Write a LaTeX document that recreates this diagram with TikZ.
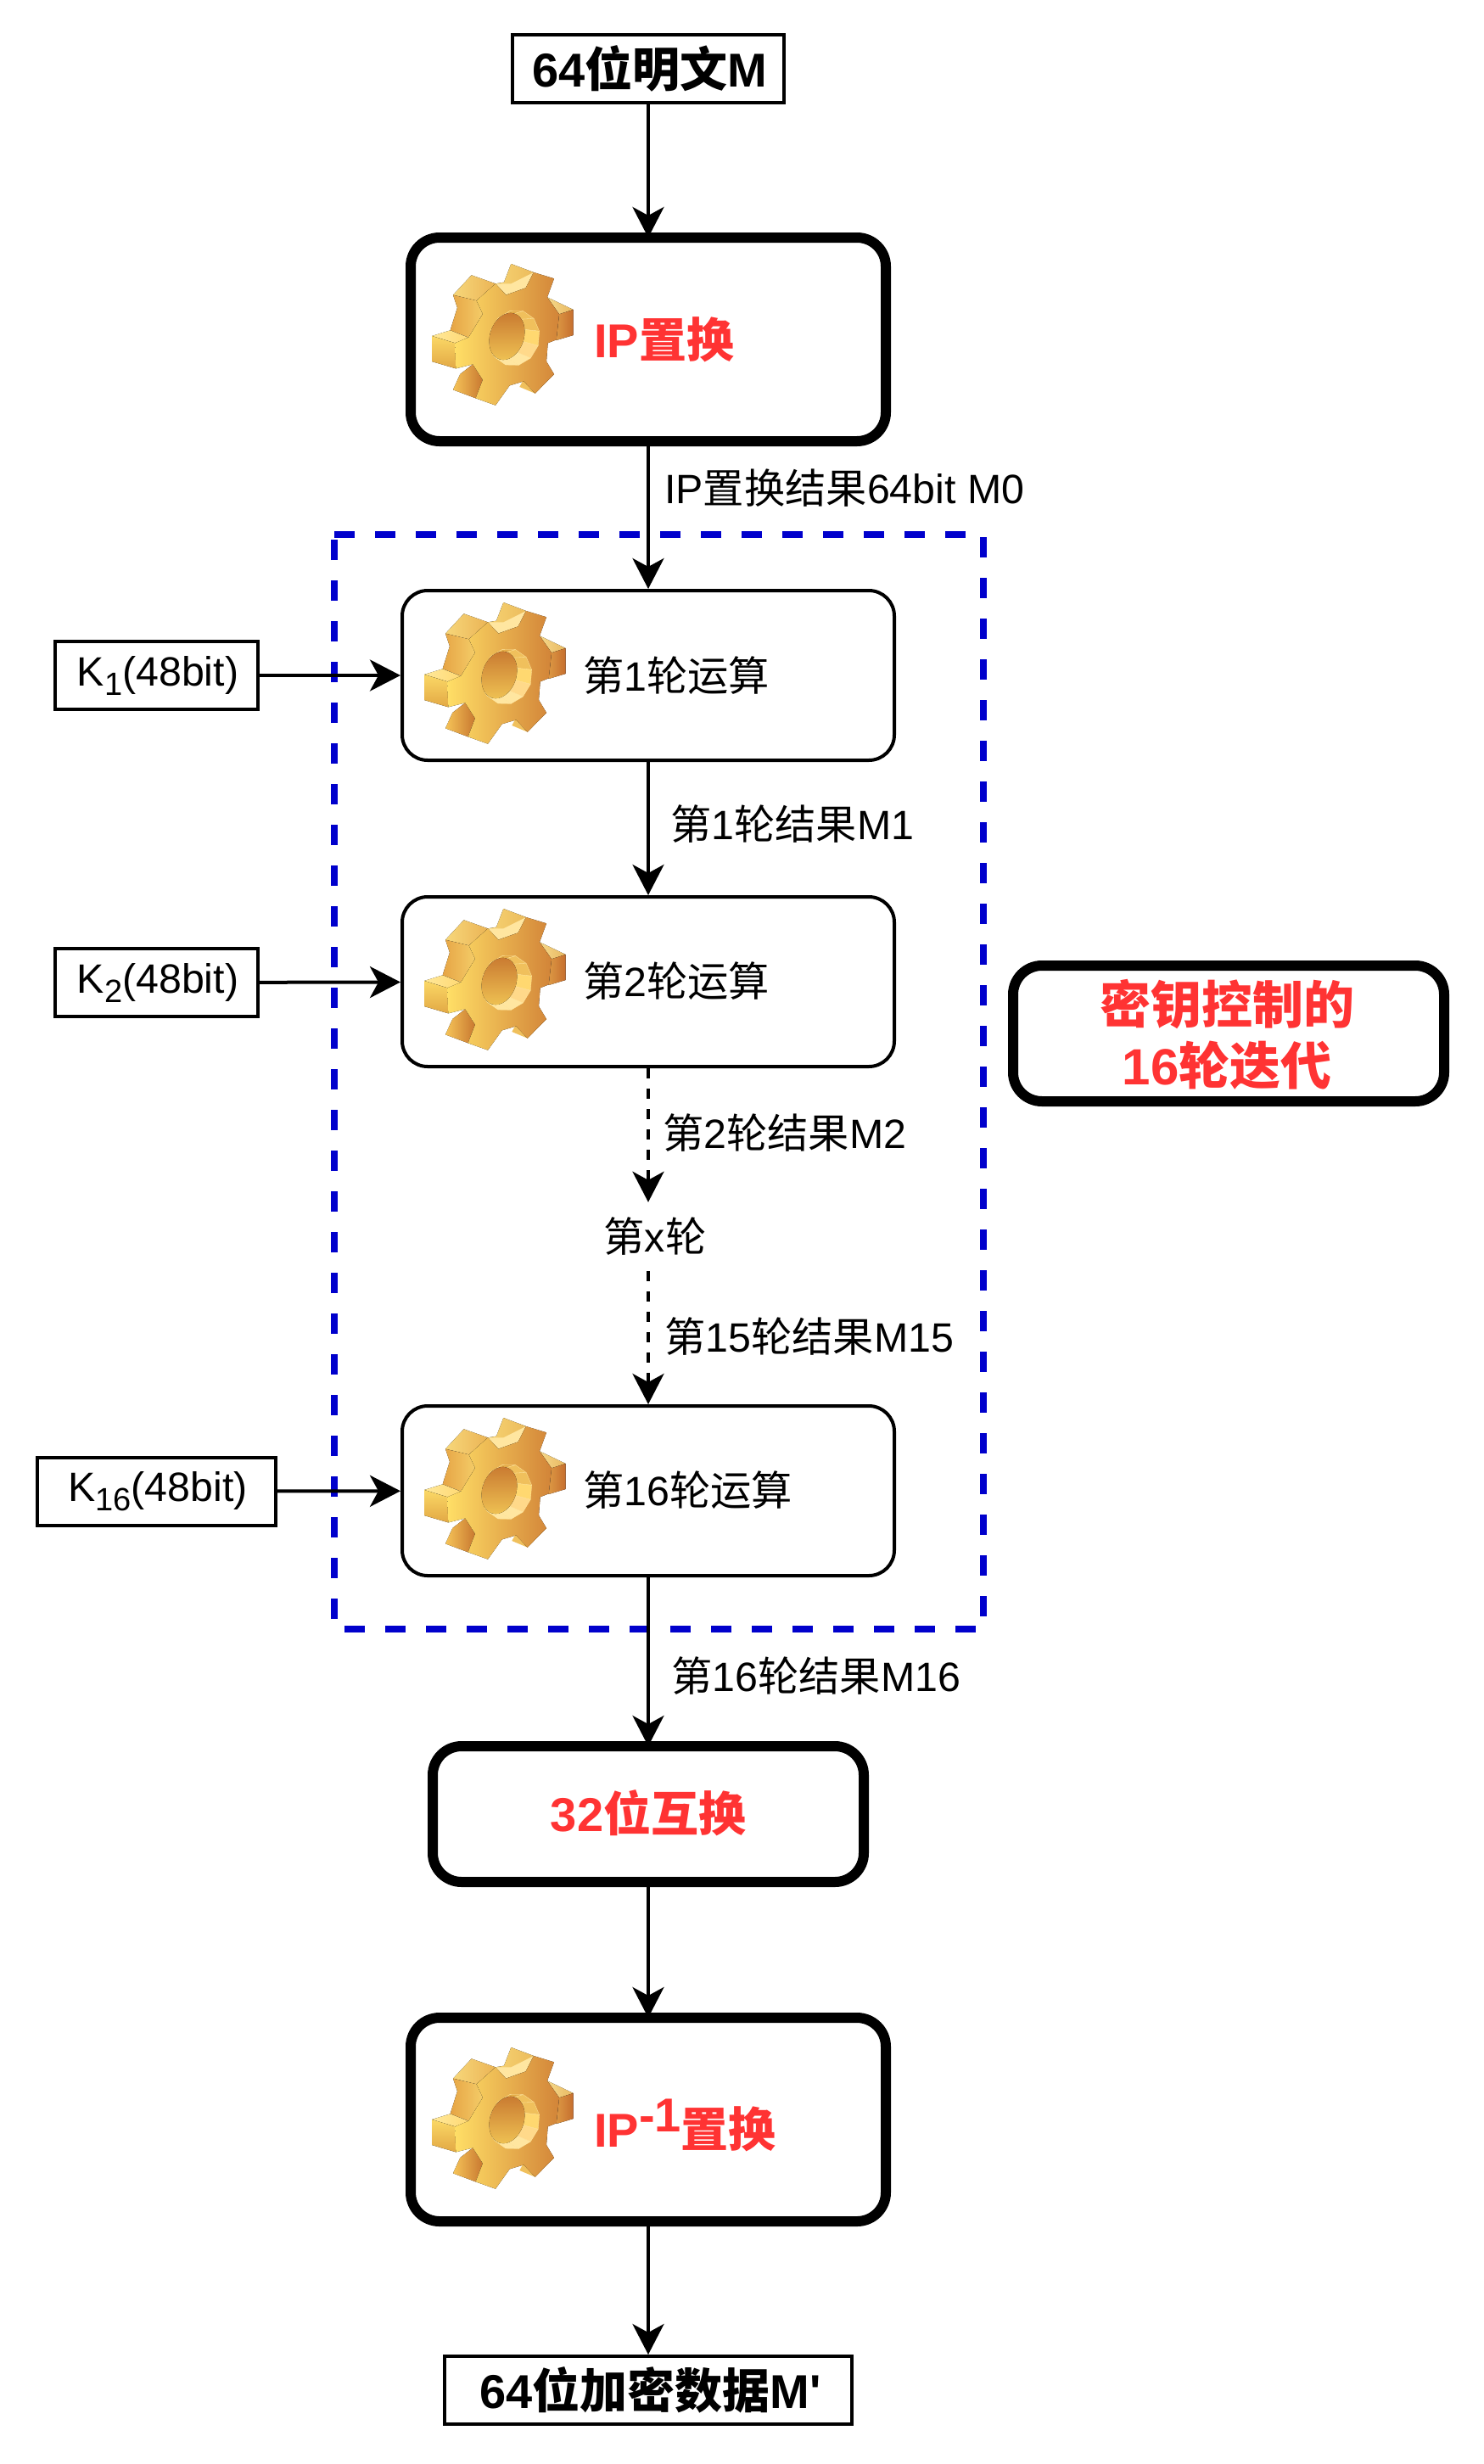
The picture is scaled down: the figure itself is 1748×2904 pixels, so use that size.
\documentclass[tikz,border=0pt]{standalone}
\usepackage{fontspec}
\setmainfont{Liberation Sans}
\newfontfamily\cjk{Noto Sans CJK SC}
\newfontfamily\lat{Liberation Sans}
\newcommand{\Zh}[1]{{\cjk #1}}
\newcommand{\Ksub}[1]{K\raisebox{-11pt}{\fontsize{38}{44}\selectfont #1}(48bit)}
\usetikzlibrary{arrows.meta}
\definecolor{redtxt}{HTML}{FF3333}
\definecolor{dashblue}{HTML}{0000CC}
\definecolor{gA}{HTML}{F7D77A}\definecolor{gB}{HTML}{EBB455}\definecolor{gC}{HTML}{E6A444}
\definecolor{gD}{HTML}{F4CC68}\definecolor{gE}{HTML}{F6D272}\definecolor{gF}{HTML}{ECBC5C}
\definecolor{gG}{HTML}{FFE89A}\definecolor{gH}{HTML}{FFD870}\definecolor{gI}{HTML}{FBD866}
\definecolor{gJ}{HTML}{E2A844}\definecolor{gK}{HTML}{F6C458}\definecolor{gL}{HTML}{C87830}
\definecolor{gM}{HTML}{F6D88A}\definecolor{gN}{HTML}{E8B860}\definecolor{gO}{HTML}{DC9844}
\definecolor{gP}{HTML}{C66E2E}\definecolor{gQ}{HTML}{F0C05C}\definecolor{gR}{HTML}{FFDE66}
\definecolor{gS}{HTML}{D28438}\definecolor{gT}{HTML}{E4AC48}\definecolor{gU}{HTML}{FFE6A0}
\definecolor{gV}{HTML}{FFD98A}\definecolor{gW}{HTML}{F0C454}
\tikzset{
  base/.style={font=\fontsize{48.3}{58}\selectfont,text=black},
  thinbox/.style={base,draw=black,line width=4pt,fill=white,rounded corners=30pt,minimum width=580pt,minimum height=200pt,inner sep=0pt},
  thickbox/.style={draw=black,line width=12pt,fill=white,rounded corners=34pt,inner sep=0pt,outer sep=0pt},
  squarebox/.style={base,draw=black,line width=4pt,fill=white,inner sep=0pt},
  titlebox/.style={squarebox,font=\fontsize{56}{66}\selectfont\bfseries},
  redtext/.style={font=\fontsize{56}{72}\selectfont\bfseries,text=redtxt,align=center,inner sep=0pt},
  lbl/.style={base,anchor=west,inner sep=0pt},
  conn/.style={draw=black,line width=4pt,-{Stealth[length=36pt,width=37pt,inset=10pt]}},
  dconn/.style={conn,dash pattern=on 12pt off 12pt},
  frameline/.style={draw=dashblue,line width=8pt,dash pattern=on 24pt off 24pt,line join=miter},
  pics/gear/.style={code={
    \begin{scope}[scale=1/3,line join=round]
      \fill[left color=gA,right color=gB] (135,170)--(200,100)--(285,130)--(218,190)--cycle;
      \fill[left color=gC,right color=gD] (135,170)--(150,215)--(125,295)--(190,320)--(240,237)--(218,190)--cycle;
      \fill[left color=gE,right color=gF] (340,60)--(420,90)--(392,145)--(322,170)--(285,130)--(315,125)--cycle;
      \fill[gU] (285,130)--(322,170)--(392,145)--(420,90)--(340,130)--cycle;
      \fill[left color=gG,right color=gH] (60,315)--(125,295)--(200,325)--(142,340)--cycle;
      \fill[top color=gI,bottom color=gJ] (60,315)--(142,340)--(145,430)--(60,405)--cycle;
      \fill[left color=gK,right color=gL] (160,450)--(205,415)--(240,470)--(215,535)--(135,505)--cycle;
      \fill[left color=gM,right color=gN] (468,178)--(560,222)--(510,238)--cycle;
      \fill[left color=gO,right color=gP] (510,238)--(560,222)--(560,312)--(500,330)--cycle;
      \fill[gQ] (492,450)--(425,518)--(370,495)--(400,440)--cycle;
      \fill[left color=gR,right color=gS] (142,340)--(190,320)--(240,237)--(218,190)--(285,130)--(322,170)--(392,145)--(420,90)--(492,112)--(468,178)--(510,238)--(500,328)--(470,340)--(465,405)--(492,450)--(425,518)--(385,475)--(335,490)--(285,560)--(215,535)--(240,470)--(205,415)--(145,430)--cycle;
      \begin{scope}[shift={(352,322)},rotate=-18]
        \foreach \a/\b/\c in {-150/-120/gK,-120/-90/gT,-90/-60/gQ,-60/-30/gQ,-30/0/gH,0/30/gV,30/60/gU,60/90/gU,90/120/gG,120/150/gH,150/180/gK,180/210/gK}{
          \fill[\c,draw=gU,line width=0.3pt] ([shift={(-27,3)}]\a:60 and 85) -- (\a:88 and 100) -- (\b:88 and 100) -- ([shift={(-27,3)}]\b:60 and 85) -- cycle;
        }
        \fill[bottom color=gW,top color=gL] (-27,3) ellipse [x radius=60,y radius=85];
      \end{scope}
    \end{scope}
  }},
}
\begin{document}
\begin{tikzpicture}[x=1pt,y=-1pt]
\useasboundingbox[fill=white] (0,0) rectangle (1748,2904);
% frame
\coordinate (fa) at (394,630);
\coordinate (fb) at (1159,630);
\coordinate (fc) at (1159,1920);
\coordinate (fd) at (394,1920);
\draw[frameline] (fa) -- (fb) -- (fc) -- (fd) -- cycle;
% nodes
\node[titlebox,minimum width=320pt,minimum height=80pt] (top) at (764,81) {\hspace*{3pt}64\Zh{位明文}M};
\node[thickbox,minimum width=560pt,minimum height=240pt] (ip) at (764,400) {};
\node[thinbox] (r1) at (764,796) {};
\node[thinbox] (r2) at (764,1157) {};
\node[base,minimum height=81pt,minimum width=100pt,inner sep=0pt] (xn) at (764,1457.5) {\hspace*{16pt}\Zh{第}x\Zh{轮}};
\node[thinbox] (r16) at (764,1757) {};
\node[thickbox,minimum width=508pt,minimum height=160pt] (sw) at (764,2138) {};
\node[thickbox,minimum width=560pt,minimum height=240pt] (ipi) at (764,2498) {};
\node[titlebox,minimum width=480pt,minimum height=80pt] (bot) at (764,2817) {\hspace*{5pt}64\Zh{位加密数据}{\lat M'}};
\node[squarebox,minimum width=239pt,minimum height=80pt] (k1) at (184.5,796) {\hspace*{3pt}\Ksub{1}};
\node[squarebox,minimum width=239pt,minimum height=80pt] (k2) at (184.5,1158) {\hspace*{3pt}\Ksub{2}};
\node[squarebox,minimum width=281pt,minimum height=80pt] (k16) at (184,1757.5) {\hspace*{4pt}\Ksub{16}};
\node[thickbox,minimum width=508pt,minimum height=160pt] (iter) at (1448,1218) {};
% gears
\pic at (489,291) {gear};
\pic at (480,690) {gear};
\pic at (480,1051) {gear};
\pic at (480,1651) {gear};
\pic at (489,2393) {gear};
% texts in boxes
\node[redtext,anchor=west] (tip) at (700,400) {IP\Zh{置换}};
\node[redtext] (tsw) at (764,2137) {32\Zh{位互换}};
\node[redtext,anchor=west] (tipi) at (700,2505) {IP\raisebox{18pt}{-1}\Zh{置换}};
\node[redtext,font=\fontsize{60}{72}\selectfont\bfseries] (titer) at (1446,1219) {\Zh{密钥控制的}\\16\Zh{轮迭代}};
\node[lbl] (t1) at (687,796) {\Zh{第}1\Zh{轮运算}};
\node[lbl] (t2) at (687,1156) {\Zh{第}2\Zh{轮运算}};
\node[lbl] (t16) at (687,1756) {\Zh{第}16\Zh{轮运算}};
% labels
\node[lbl] (l0) at (783,575) {IP\Zh{置换结果}64bit M0};
\node[lbl] (l1) at (790,971) {\Zh{第}1\Zh{轮结果}M1};
\node[lbl] (l2) at (781,1335) {\Zh{第}2\Zh{轮结果}M2};
\node[lbl] (l15) at (783,1575) {\Zh{第}15\Zh{轮结果}M15};
\node[lbl] (l16) at (791,1975) {\Zh{第}16\Zh{轮结果}M16};
% connectors
\draw[conn] (top) -- (ip);
\draw[conn] (ip) -- (r1);
\draw[conn] (r1) -- (r2);
\draw[dconn] (r2) -- (xn);
\draw[dconn] (xn) -- (r16);
\draw[conn] (r16) -- (sw);
\draw[conn] (sw) -- (ipi);
\draw[conn] (ipi) -- (bot);
\draw[conn] (k1) -- (r1);
\draw[conn] (k2) -- (r2);
\draw[conn] (k16) -- (r16);
\end{tikzpicture}
\end{document}
